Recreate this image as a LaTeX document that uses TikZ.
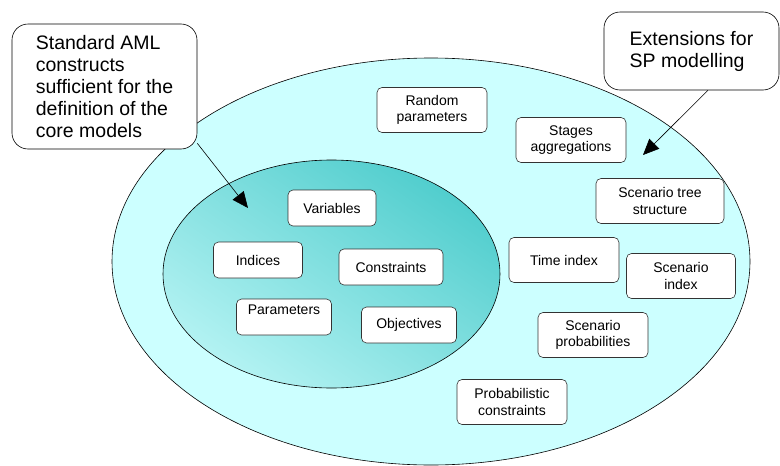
\documentclass[tikz,border=0pt]{standalone}
\usepackage{fontspec}
\setsansfont{Liberation Sans}
\usepackage{tikz}
\usetikzlibrary{arrows.meta,shapes,shadings,positioning}
\definecolor{paleaqua}{HTML}{CCFFFF}
\definecolor{tealdark}{HTML}{3CC6C6}
\definecolor{tealmid}{HTML}{84E0E0}
\definecolor{teallight}{HTML}{C6FAFA}
\tikzset{
	basic/.style  = {draw=black!80, fill=white, line width=0.6pt, font=\sffamily\fontsize{14}{16.7}\selectfont, rectangle, align=center, inner sep=2pt},
	core item/.style = {basic, rounded corners=5pt, minimum height=36pt},
	ext item/.style = {basic, rounded corners=5pt, minimum width=110pt, minimum height=45pt},
	note/.style   = {basic, draw=black, rounded corners=16pt, align=left,
		font=\sffamily\fontsize{19.5}{22}\selectfont}
}

\begin{document}
\begin{tikzpicture}[x=1pt, y=-1pt,
>={Triangle[length=16pt,width=14pt]}]
\useasboundingbox (0,0) rectangle (780,466);

% the two sets: SP extensions round the core models
\draw[fill=paleaqua, line width=0.6pt] (431,261.5) ellipse [x radius=319pt, y radius=203.5pt];
\shade[upper right=tealdark, lower left=teallight, upper left=tealmid, lower right=tealmid]
	(331.5,274) ellipse [x radius=168.5pt, y radius=114pt];
\draw[line width=0.6pt] (331.5,274) ellipse [x radius=168.5pt, y radius=114pt];

% core model constructs
\node[core item, minimum width=88pt] (vars) at (332,208) {Variables};
\node[core item, minimum width=89pt] (idx) at (258,260) {Indices};
\node[core item, minimum width=104pt] (cons) at (391,267) {Constraints};
\node[core item, minimum width=95pt, text depth=14pt] (pars) at (284,317) {Parameters};
\node[core item, minimum width=95pt] (objs) at (409,325) {Objectives};

% SP extensions
\node[ext item] (rand) at (432,110) {Random\\parameters};
\node[ext item] (stages) at (571,140) {Stages\\aggregations};
\node[ext item, minimum width=128pt] (tree) at (660,201) {Scenario tree\\structure};
\node[ext item] (time) at (564,260) {Time index};
\node[ext item, minimum width=109pt] (scidx) at (681,276) {Scenario\\index};
\node[ext item] (prob) at (593,335) {Scenario\\probabilities};
\node[ext item] (pcons) at (512,402) {Probabilistic\\constraints};

% callouts
\node[note, minimum width=185pt, minimum height=125pt] (noteA) at (104.5,86.5)
	{Standard AML\\constructs\\sufficient for the\\definition of the\\core models};
\node[note, minimum width=175pt, minimum height=78pt] (noteB) at (691.5,51)
	{Extensions for\\SP modelling};

\coordinate (tipA) at (248,208);
\coordinate (tipB) at (643,155);
\draw[->, line width=0.6pt] ([yshift=6pt]noteA.south east) -- (tipA);
\draw[->, line width=0.6pt] ([xshift=16.5pt]noteB.south) -- (tipB);

\end{tikzpicture}
\end{document}
